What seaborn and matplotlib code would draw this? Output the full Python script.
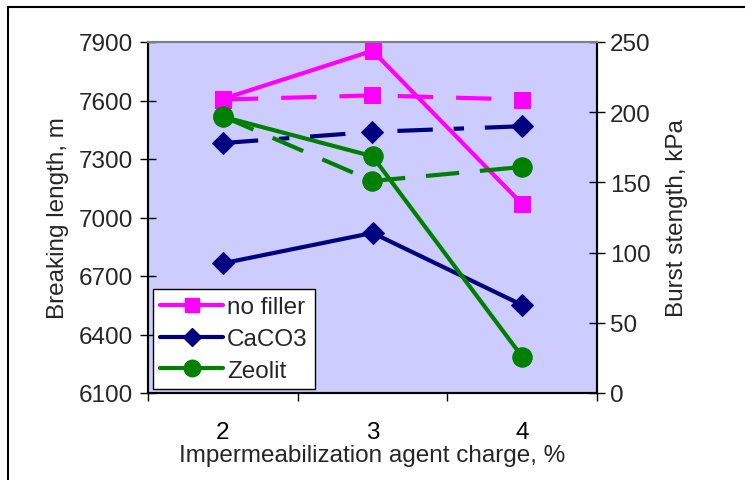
import matplotlib
matplotlib.use("Agg")
import matplotlib.pyplot as plt
import seaborn as sns
import pandas as pd
from matplotlib.patches import Rectangle
from matplotlib.lines import Line2D

# ---- data ----
charge = [2, 3, 4]
series_names = ["no filler", "CaCO3", "Zeolit"]
breaking_no_filler = [7608, 7855, 7069]
breaking_caco3 = [6765, 6921, 6551]
breaking_zeolit = [7517, 7314, 6286]
burst_no_filler = [209, 212, 209]
burst_caco3 = [178, 186, 190]
burst_zeolit = [197, 151, 161]
left_ticks = [6100, 6400, 6700, 7000, 7300, 7600, 7900]
right_ticks = [0, 50, 100, 150, 200, 250]

colors = {"no filler": "#FF00FF", "CaCO3": "#000080", "Zeolit": "#008000"}
markers = {"no filler": "s", "CaCO3": "D", "Zeolit": "o"}
msizes = {"no filler": 11.5, "CaCO3": 11, "Zeolit": 14}
dash_styles = {"no filler": (0, (8.5, 5.5)), "CaCO3": (0, (8.5, 5, 2.5, 5)), "Zeolit": (0, (8, 5))}

sns.set_theme(style="white")
plt.rcParams["font.family"] = ["Liberation Sans", "DejaVu Sans"]

fig = plt.figure(figsize=(7.45, 4.81), dpi=100)
ax = fig.add_axes([148/745, 1-394/481, 449/745, 351/481])
ax2 = ax.twinx()
ax.set_facecolor("#CCCCFF")
ax2.patch.set_visible(False)

breaking = {"no filler": breaking_no_filler, "CaCO3": breaking_caco3, "Zeolit": breaking_zeolit}
burst = {"no filler": burst_no_filler, "CaCO3": burst_caco3, "Zeolit": burst_zeolit}

for name in series_names:
    df = pd.DataFrame({"x": charge, "y": breaking[name]})
    sns.lineplot(data=df, x="x", y="y", ax=ax, color=colors[name], lw=3,
                 marker=markers[name], markersize=msizes[name],
                 markeredgecolor=colors[name], legend=False)
for name in series_names:
    df = pd.DataFrame({"x": charge, "y": burst[name]})
    sns.lineplot(data=df, x="x", y="y", ax=ax2, color=colors[name], lw=3,
                 linestyle=dash_styles[name],
                 marker=markers[name], markersize=msizes[name],
                 markeredgecolor=colors[name], legend=False)

ax.set_xlim(1.5, 4.5)
ax.set_ylim(6100, 7900)
ax2.set_ylim(0, 250)
ax.set_xticks(charge)
ax.set_xticklabels([str(c) for c in charge])
ax.set_xticks([1.5, 2.5, 3.5, 4.5], minor=True)
ax.set_yticks(left_ticks)
ax2.set_yticks(right_ticks)

fs = 17.5
ax.tick_params(axis="x", which="major", length=0, pad=20, labelsize=fs, colors="black")
ax.tick_params(axis="x", which="minor", length=6, width=1, direction="out", bottom=True, color="black")
ax.tick_params(axis="y", which="major", length=11, width=1, direction="inout", pad=5, labelsize=fs, left=True, color="black")
ax2.tick_params(axis="y", which="major", length=11, width=1, direction="inout", pad=4, labelsize=fs, right=True, color="black")

ax.set_xlabel("Impermeabilization agent charge, %", fontsize=fs, labelpad=1)
ax.set_ylabel("Breaking length, m", fontsize=fs, labelpad=7)
ax2.set_ylabel("Burst stength, kPa", fontsize=fs, labelpad=11)

for a in (ax, ax2):
    for s in ["left", "right", "bottom"]:
        a.spines[s].set_color("black")
        a.spines[s].set_linewidth(1.5)
    a.spines["top"].set_color("#808080")
    a.spines["top"].set_linewidth(1.5)

handles = [Line2D([0], [0], color=colors[n], lw=3, marker=markers[n],
                  markersize=msizes[n] * 0.85, markeredgecolor=colors[n]) for n in series_names]
leg = ax2.legend(handles, series_names, loc="lower left", bbox_to_anchor=(0.011, 0.011),
                 fontsize=fs, frameon=True, fancybox=False, framealpha=1,
                 edgecolor="black", facecolor="white", handlelength=2.6,
                 handletextpad=0.15, borderpad=0.3, labelspacing=0.4, borderaxespad=0)
leg.get_frame().set_linewidth(1)

fig.add_artist(Rectangle((8/745, -0.1), 1.0, 1 - 8/481 + 0.1, transform=fig.transFigure,
                         fill=False, edgecolor="black", lw=1.5))

fig.savefig("out.png", dpi=100)
